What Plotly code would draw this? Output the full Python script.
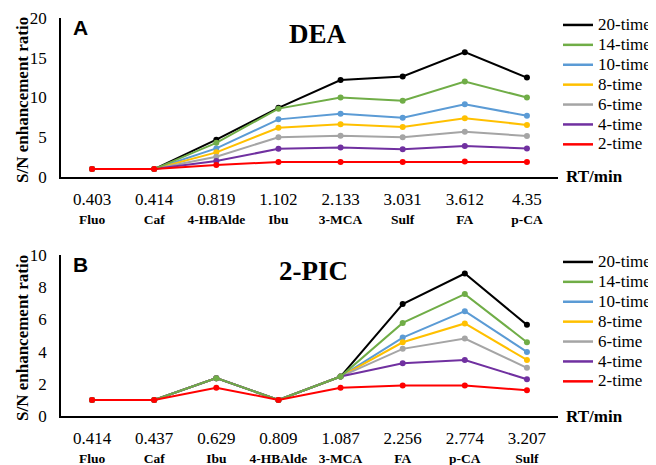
import plotly.graph_objects as go

# The page body has an 8px default margin, so the figure is drawn 8px smaller
# and every reference-pixel coordinate is shifted by OFF.
OFF = 8
W, H = 656 - OFF, 465 - OFF

# ---------------- data ----------------
series_names = ["20-time", "14-time", "10-time", "8-time", "6-time", "4-time", "2-time"]
series_colors = ["#000000", "#70AD47", "#5B9BD5", "#FFC000", "#A5A5A5", "#7030A0", "#FF0000"]

# Panel A (DEA)
a_rt = ["0.403", "0.414", "0.819", "1.102", "2.133", "3.031", "3.612", "4.35"]
a_names = ["Fluo", "Caf", "4-HBAlde", "Ibu", "3-MCA", "Sulf", "FA", "p-CA"]
a_20 = [1.0, 1.0, 4.7, 8.7, 12.2, 12.65, 15.7, 12.5]
a_14 = [1.0, 1.0, 4.3, 8.6, 10.0, 9.6, 12.0, 10.0]
a_10 = [1.0, 1.0, 3.6, 7.25, 7.95, 7.45, 9.15, 7.7]
a_8 = [1.0, 1.0, 3.1, 6.2, 6.65, 6.3, 7.4, 6.55]
a_6 = [1.0, 1.0, 2.55, 5.0, 5.2, 5.0, 5.7, 5.15]
a_4 = [1.0, 1.0, 2.0, 3.55, 3.7, 3.5, 3.9, 3.6]
a_2 = [1.0, 1.0, 1.5, 1.9, 1.9, 1.9, 1.95, 1.9]

# Panel B (2-PIC)
b_rt = ["0.414", "0.437", "0.629", "0.809", "1.087", "2.256", "2.774", "3.207"]
b_names = ["Fluo", "Caf", "Ibu", "4-HBAlde", "3-MCA", "FA", "p-CA", "Sulf"]
b_20 = [1.0, 1.0, 2.35, 1.0, 2.45, 6.95, 8.85, 5.66]
b_14 = [1.0, 1.0, 2.35, 1.0, 2.45, 5.78, 7.57, 4.58]
b_10 = [1.0, 1.0, 2.35, 1.0, 2.45, 4.87, 6.51, 3.98]
b_8 = [1.0, 1.0, 2.35, 1.0, 2.45, 4.58, 5.75, 3.48]
b_6 = [1.0, 1.0, 2.35, 1.0, 2.45, 4.17, 4.81, 2.99]
b_4 = [1.0, 1.0, 2.35, 1.0, 2.45, 3.28, 3.48, 2.28]
b_2 = [1.0, 1.0, 1.76, 1.0, 1.76, 1.89, 1.89, 1.6]

a_series = [a_20, a_14, a_10, a_8, a_6, a_4, a_2]
b_series = [b_20, b_14, b_10, b_8, b_6, b_4, b_2]

# drawing order (index into series lists)
draw_order = [0, 2, 3, 4, 5, 1, 6]

SERIF = "Liberation Serif"
SANS = "Liberation Sans"


def px(x):
    return (x - OFF) / W


def py(y):
    return 1 - (y - OFF) / H


fig = go.Figure()


def add_panel(xcats, series, xa, ya, legend):
    for i in draw_order:
        fig.add_trace(go.Scatter(
            x=xcats, y=series[i], mode="lines+markers",
            line=dict(color=series_colors[i], width=2),
            marker=dict(color=series_colors[i], size=6),
            xaxis=xa, yaxis=ya, showlegend=False, hoverinfo="skip"))
    for i in range(len(series_names)):
        fig.add_trace(go.Scatter(
            x=[None], y=[None], mode="lines",
            line=dict(color=series_colors[i], width=2.5),
            name="<span style='font-size:17px'>" + series_names[i] + "</span>",
            xaxis=xa, yaxis=ya, legend=legend, showlegend=True))


add_panel(a_names, a_series, "x", "y", "legend")
add_panel(b_names, b_series, "x2", "y2", "legend2")


def ticktext(rts, names):
    return [f"<span style='font-size:17px'>{r}</span><br><span style='font-size:13.5px'><b>{n}</b></span>"
            for r, n in zip(rts, names)]


x_dom = [px(61), px(558)]
a_dom = [py(177), py(18)]
b_dom = [py(416), py(255)]

xcommon = dict(type="category", range=[-0.5, 7.5], showline=True, linecolor="black",
               linewidth=1.5, showgrid=False, zeroline=False, ticks="",
               tickfont=dict(family=SERIF, size=14.5, color="black"), ticklabelstandoff=9)
ycommon = dict(showline=True, linecolor="black", linewidth=1.5, showgrid=False,
               zeroline=False, ticks="", ticklabelstandoff=9,
               tickfont=dict(family=SERIF, size=17, color="black"))

fig.update_layout(
    width=W, height=H, margin=dict(l=0, r=0, t=0, b=0, autoexpand=False),
    paper_bgcolor="white", plot_bgcolor="white",
    xaxis=dict(domain=x_dom, anchor="y", categoryorder="array", categoryarray=a_names,
               tickvals=a_names, ticktext=ticktext(a_rt, a_names), **xcommon),
    yaxis=dict(domain=a_dom, anchor="x", range=[0, 20], dtick=5, **ycommon),
    xaxis2=dict(domain=x_dom, anchor="y2", categoryorder="array", categoryarray=b_names,
                tickvals=b_names, ticktext=ticktext(b_rt, b_names), **xcommon),
    yaxis2=dict(domain=b_dom, anchor="x2", range=[0, 10], dtick=2, **ycommon),
    legend=dict(x=px(558), y=py(10), xanchor="left", yanchor="top",
                font=dict(family=SERIF, size=13, color="black"), tracegroupgap=0,
                bgcolor="rgba(0,0,0,0)"),
    legend2=dict(x=px(558), y=py(247), xanchor="left", yanchor="top",
                 font=dict(family=SERIF, size=13, color="black"), tracegroupgap=0,
                 bgcolor="rgba(0,0,0,0)"),
    showlegend=True,
)

annos = [
    dict(text="<b>A</b>", x=80, y=27, font=dict(family=SANS, size=21)),
    dict(text="<b>DEA</b>", x=318, y=34, font=dict(family=SERIF, size=27)),
    dict(text="<b>B</b>", x=80, y=264, font=dict(family=SANS, size=21)),
    dict(text="<b>2-PIC</b>", x=313, y=271, font=dict(family=SERIF, size=27)),
]
for a in annos:
    fig.add_annotation(text=a["text"], x=px(a["x"]), y=py(a["y"]), xref="paper", yref="paper",
                       xanchor="center", yanchor="middle", showarrow=False,
                       font=dict(color="black", **a["font"]))
for yy in (177, 416):
    fig.add_annotation(text="<b>RT/min</b>", x=px(564), y=py(yy), xref="paper", yref="paper",
                       xanchor="left", yanchor="middle", showarrow=False,
                       font=dict(family=SERIF, size=17, color="black"))
for yy in (100, 338):
    fig.add_annotation(text="<b>S/N enhancement ratio</b>", x=px(22), y=py(yy),
                       xref="paper", yref="paper", xanchor="center", yanchor="middle",
                       textangle=-90, showarrow=False,
                       font=dict(family=SERIF, size=17, color="black"))

fig.write_html("out.html")
